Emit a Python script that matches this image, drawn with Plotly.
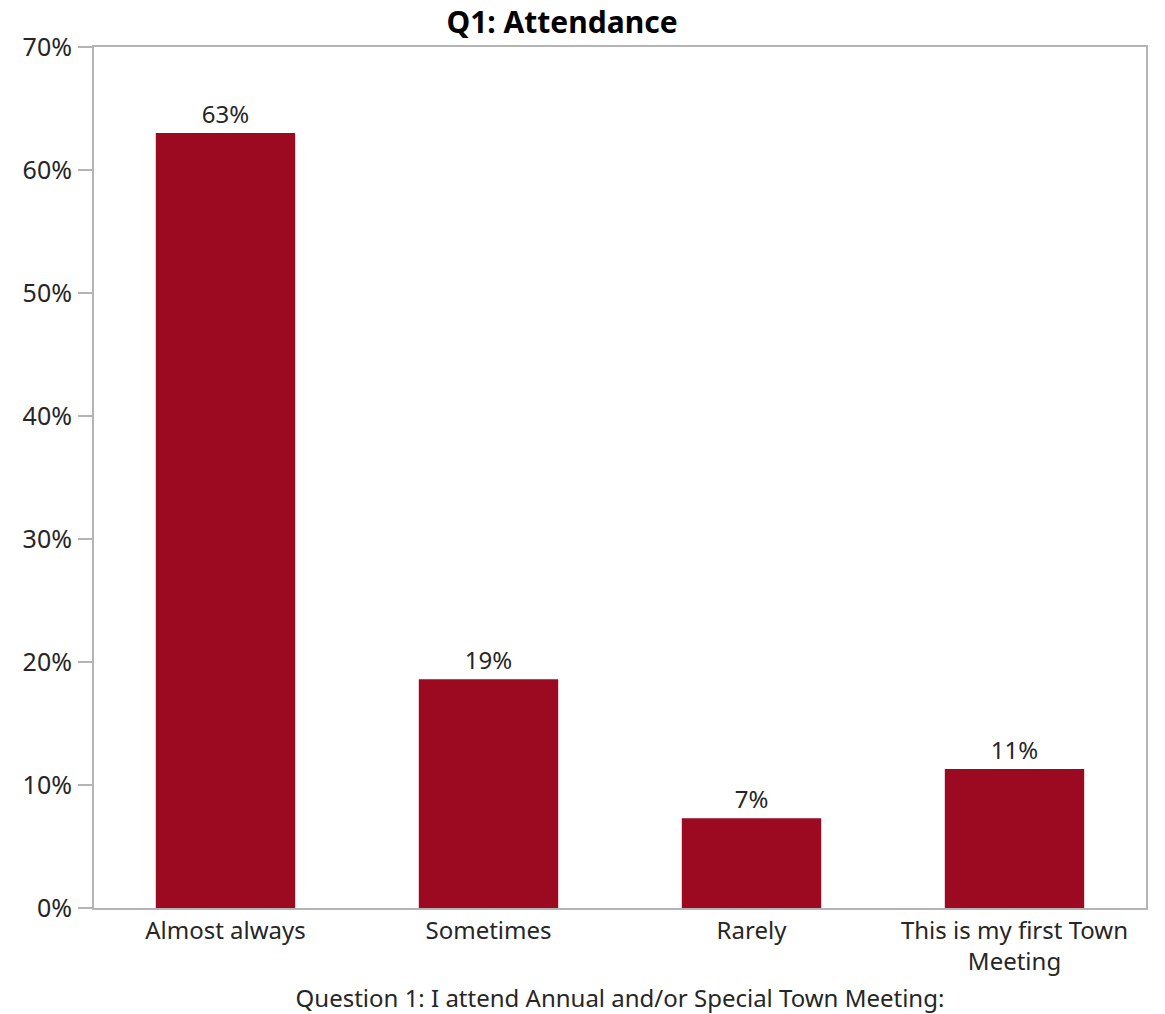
import plotly.graph_objects as go

categories = ["Almost always", "Sometimes", "Rarely", "This is my first Town<br>Meeting"]
values = [63.0, 18.6, 7.3, 11.3]
labels = ["63%", "19%", "7%", "11%"]
tick_vals = [0, 10, 20, 30, 40, 50, 60, 70]
tick_text = ["0%", "10%", "20%", "30%", "40%", "50%", "60%", "70%"]

FONT = "Noto Sans, Open Sans, sans-serif"
TXT = "#262626"
FS = 24

# page body has an 8px default margin; compensate
W, H = 1157, 1006

fig = go.Figure(
    go.Bar(
        x=categories,
        y=values,
        text=labels,
        textposition="outside",
        cliponaxis=False,
        textfont=dict(family=FONT, size=FS, color=TXT),
        marker=dict(color="#9C0A21", line=dict(width=0)),
        hoverinfo="skip",
    )
)

fig.update_layout(
    width=W,
    height=H,
    margin=dict(l=86, r=19, t=39, b=106, autoexpand=False),
    paper_bgcolor="white",
    plot_bgcolor="white",
    bargap=0.47,
    showlegend=False,
    font=dict(family=FONT, size=FS, color=TXT),
    title=dict(
        text="<b>Q1: Attendance</b>",
        x=(562 - 8) / W,
        xanchor="center",
        y=1 - 14 / H,
        yanchor="middle",
        font=dict(family=FONT, size=30, color="black"),
    ),
)

fig.update_yaxes(
    range=[0, 70],
    tickvals=tick_vals,
    ticktext=tick_text,
    automargin=False,
    showgrid=False,
    zeroline=False,
    showline=True,
    linecolor="#b4b4b4",
    linewidth=2,
    mirror=True,
    ticks="outside",
    ticklen=14,
    tickwidth=2,
    tickcolor="#b4b4b4",
    tickfont=dict(family=FONT, size=25, color=TXT),
    ticklabelstandoff=1,
)

fig.update_xaxes(
    automargin=False,
    showgrid=False,
    showline=True,
    linecolor="#b4b4b4",
    linewidth=2,
    mirror=True,
    ticks="",
    tickfont=dict(family=FONT, size=FS, color=TXT),
    title=dict(
        text="Question 1: I attend Annual and/or Special Town Meeting:",
        font=dict(family=FONT, size=FS, color=TXT),
        standoff=14,
    ),
)

fig.write_html("out.html")
